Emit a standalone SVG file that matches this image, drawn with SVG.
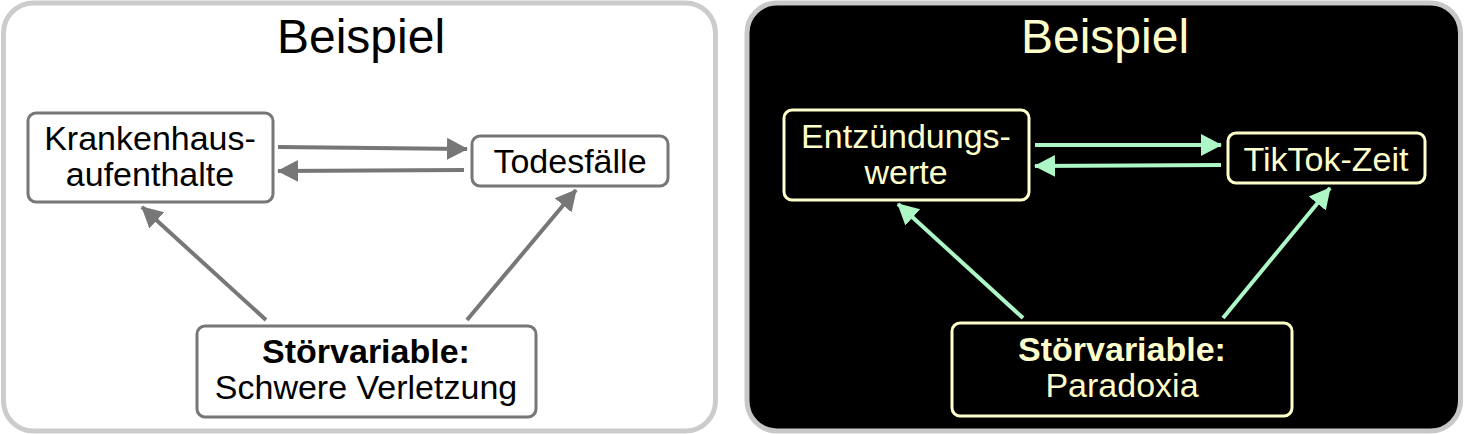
<svg xmlns="http://www.w3.org/2000/svg" width="1464" height="434" viewBox="0 0 1464 434">
<style>
text{font-family:"Liberation Sans",Arial,sans-serif;text-anchor:middle}
.title{font-size:48px}
.lbl{font-size:34px}
.b{font-weight:bold}
.lt{fill:#000}
.dt{fill:#ffffcc}
.lbox{fill:#fff;stroke:#777;stroke-width:3}
.dbox{fill:#000;stroke:#ffffcc;stroke-width:3}
.la{stroke:#777;stroke-width:4;fill:none}
.da{stroke:#adf7c6;stroke-width:4;fill:none}
</style>
<defs>
<marker id="ahL" markerUnits="userSpaceOnUse" markerWidth="22" markerHeight="24" refX="20" refY="11" orient="auto" viewBox="0 0 22 22">
<path d="M0,0 L21,11 L0,22 z" fill="#777"/>
</marker>
<marker id="ahD" markerUnits="userSpaceOnUse" markerWidth="22" markerHeight="24" refX="20" refY="11" orient="auto" viewBox="0 0 22 22">
<path d="M0,0 L21,11 L0,22 z" fill="#adf7c6"/>
</marker>
</defs>
<g id="panel-left">
<rect x="3.5" y="3" width="712" height="428" rx="30" fill="#fff" stroke="#cccccc" stroke-width="5"/>
<text class="title lt" x="361" y="53">Beispiel</text>
</g>
<g id="panel-right">
<rect x="747" y="3" width="713.5" height="428" rx="30" fill="#000" stroke="#c8c8c8" stroke-width="5"/>
<text class="title dt" x="1105" y="53">Beispiel</text>
</g>
<g id="connectors">
<line class="la" x1="278" y1="147" x2="467" y2="149" marker-end="url(#ahL)"/>
<line class="la" x1="464" y1="170" x2="278" y2="171" marker-end="url(#ahL)"/>
<line class="la" x1="266" y1="320" x2="142" y2="207" marker-end="url(#ahL)"/>
<line class="la" x1="467" y1="320" x2="576" y2="190" marker-end="url(#ahL)"/>
<line class="da" x1="1035" y1="145" x2="1221" y2="145" marker-end="url(#ahD)"/>
<line class="da" x1="1221" y1="165" x2="1035" y2="166" marker-end="url(#ahD)"/>
<line class="da" x1="1023" y1="318" x2="898" y2="204" marker-end="url(#ahD)"/>
<line class="da" x1="1223" y1="318" x2="1330" y2="188" marker-end="url(#ahD)"/>
</g>
<g id="node-krankenhaus">
<rect class="lbox" x="28" y="113" width="245" height="89" rx="8"/>
<text class="lbl lt" x="150" y="150">Krankenhaus-</text>
<text class="lbl lt" x="150" y="186">aufenthalte</text>
</g>
<g id="node-todesfaelle">
<rect class="lbox" x="472" y="136" width="196" height="50" rx="8"/>
<text class="lbl lt" x="570" y="173">Todesfälle</text>
</g>
<g id="node-stoer-left">
<rect class="lbox" x="197" y="326" width="339" height="91" rx="8"/>
<text class="lbl lt b" x="366" y="363">Störvariable:</text>
<text class="lbl lt" x="366" y="399">Schwere Verletzung</text>
</g>
<g id="node-entzuendung">
<rect class="dbox" x="784" y="110" width="245" height="90" rx="8"/>
<text class="lbl dt" x="906" y="148">Entzündungs-</text>
<text class="lbl dt" x="906" y="184">werte</text>
</g>
<g id="node-tiktok">
<rect class="dbox" x="1228" y="133" width="197" height="50" rx="8"/>
<text class="lbl dt" x="1326" y="171">TikTok-Zeit</text>
</g>
<g id="node-stoer-right">
<rect class="dbox" x="952" y="323" width="340" height="93" rx="8"/>
<text class="lbl dt b" x="1122" y="361">Störvariable:</text>
<text class="lbl dt" x="1122" y="397">Paradoxia</text>
</g>
</svg>
